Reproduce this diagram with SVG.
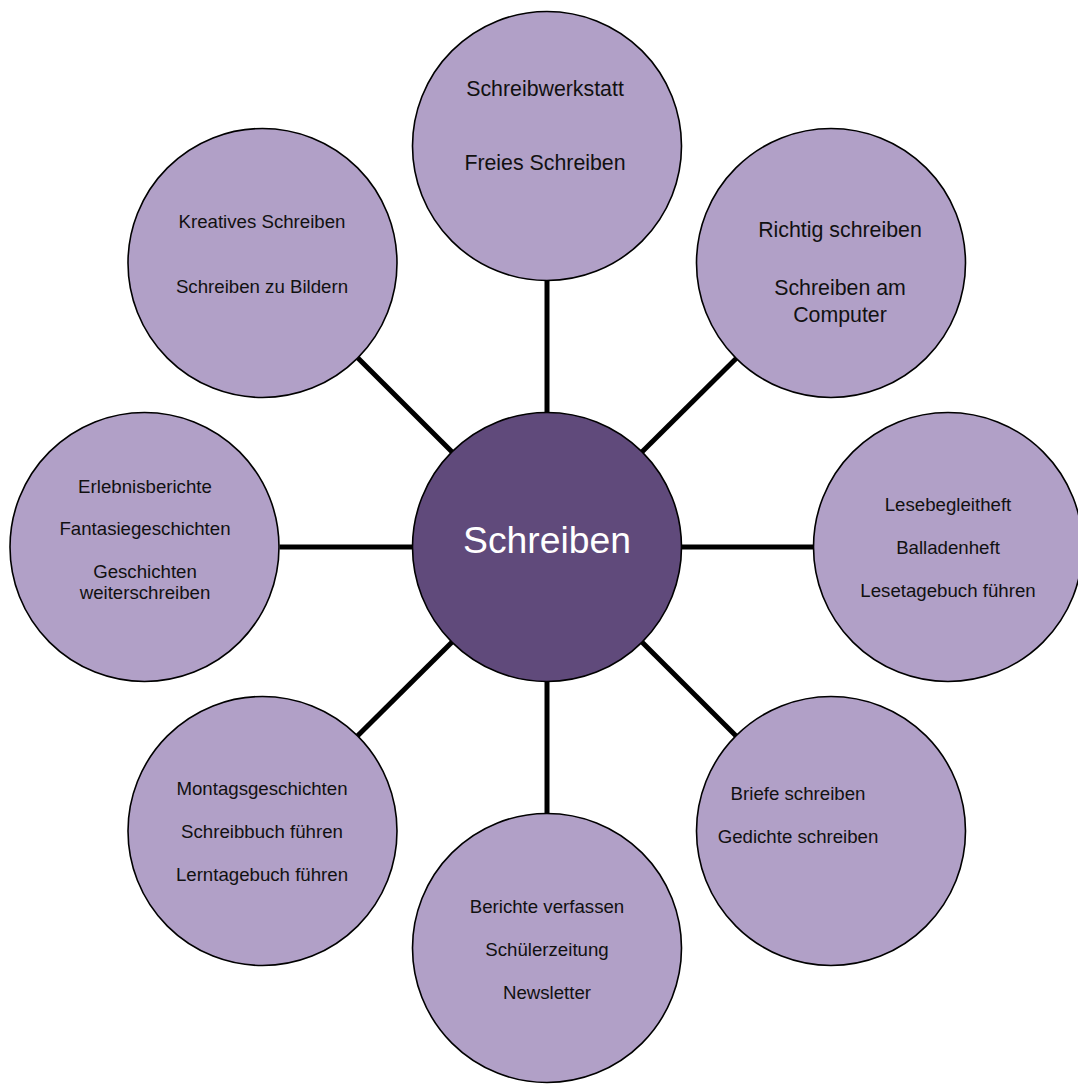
<svg xmlns="http://www.w3.org/2000/svg" width="1078" height="1084" viewBox="0 0 1078 1084">
<style>
.bg{fill:#ffffff}
.sat{fill:#B1A0C7;stroke:#000;stroke-width:1.6}
.hub{fill:#604A7B;stroke:#000;stroke-width:1.6}
.con{stroke:#000;stroke-width:5;fill:none}
text{font-family:"Liberation Sans",Arial,sans-serif;text-anchor:middle;fill:#111}
.s14{font-size:18.67px}
.s16{font-size:21.33px}
.hubt{font-size:37.3px;fill:#ffffff}
</style>
<rect class="bg" x="0" y="0" width="1078" height="1084"/>
<g id="connectors">
<line class="con" x1="547" y1="413.5" x2="547" y2="279.5"/>
<line class="con" x1="547" y1="680.5" x2="547" y2="814.5"/>
<line class="con" x1="413.5" y1="547" x2="279.5" y2="547"/>
<line class="con" x1="680.5" y1="547" x2="814.5" y2="547"/>
<line class="con" x1="452.6" y1="452.6" x2="357.4" y2="357.4"/>
<line class="con" x1="641.4" y1="452.6" x2="736.1" y2="358.4"/>
<line class="con" x1="452.6" y1="641.4" x2="357.4" y2="736.1"/>
<line class="con" x1="641.4" y1="641.4" x2="736.1" y2="736.1"/>
</g>
<g id="node-top">
<circle class="sat" cx="547" cy="146" r="134.5"/>
<text class="s16" x="545" y="96">Schreibwerkstatt</text>
<text class="s16" x="545" y="169.5">Freies Schreiben</text>
</g>
<g id="node-topright">
<circle class="sat" cx="831" cy="263" r="134.5"/>
<text class="s16" x="840" y="237.3">Richtig schreiben</text>
<text class="s16" x="840" y="294.7">Schreiben am</text>
<text class="s16" x="840" y="322.3">Computer</text>
</g>
<g id="node-right">
<circle class="sat" cx="948" cy="547" r="134.5"/>
<text class="s14" x="948" y="511">Lesebegleitheft</text>
<text class="s14" x="948" y="554">Balladenheft</text>
<text class="s14" x="948" y="596.7">Lesetagebuch führen</text>
</g>
<g id="node-bottomright">
<circle class="sat" cx="831" cy="831" r="134.5"/>
<text class="s14" x="798" y="800">Briefe schreiben</text>
<text class="s14" x="798" y="842.7">Gedichte schreiben</text>
</g>
<g id="node-bottom">
<circle class="sat" cx="547" cy="948" r="134.5"/>
<text class="s14" x="547" y="913.3">Berichte verfassen</text>
<text class="s14" x="547" y="956">Schülerzeitung</text>
<text class="s14" x="547" y="999.3">Newsletter</text>
</g>
<g id="node-bottomleft">
<circle class="sat" cx="262.5" cy="831" r="134.5"/>
<text class="s14" x="262" y="795">Montagsgeschichten</text>
<text class="s14" x="262" y="838.3">Schreibbuch führen</text>
<text class="s14" x="262" y="881">Lerntagebuch führen</text>
</g>
<g id="node-left">
<circle class="sat" cx="144.5" cy="547" r="134.5"/>
<text class="s14" x="145" y="492.7">Erlebnisberichte</text>
<text class="s14" x="145" y="535">Fantasiegeschichten</text>
<text class="s14" x="145" y="578.3">Geschichten</text>
<text class="s14" x="145" y="599.3">weiterschreiben</text>
</g>
<g id="node-topleft">
<circle class="sat" cx="262.5" cy="263" r="134.5"/>
<text class="s14" x="262" y="228.3">Kreatives Schreiben</text>
<text class="s14" x="262" y="292.7">Schreiben zu Bildern</text>
</g>
<g id="node-center">
<circle class="hub" cx="547" cy="547" r="134.5"/>
<text class="hubt" x="547" y="553">Schreiben</text>
</g>
</svg>
